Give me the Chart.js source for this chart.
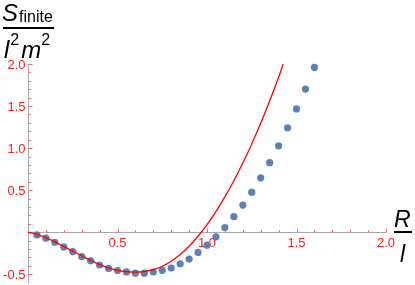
<!DOCTYPE html>
<html>
<head>
<meta charset="utf-8">
<script src="https://cdn.jsdelivr.net/npm/chart.js@4"></script>
<style>
  html, body { margin: 0; padding: 0; background: #fff; }
  .chart { position: relative; width: 415px; height: 285px; }
</style>
</head>
<body>
<div class="chart"><canvas id="chart"></canvas></div>
<script>
// blue points (numerical result)
const dotX = [0.05, 0.10, 0.15, 0.20, 0.25, 0.30, 0.35, 0.40, 0.45, 0.50, 0.55, 0.60, 0.65, 0.70, 0.75, 0.80,
  0.85, 0.90, 0.95, 1.00, 1.05, 1.10, 1.15, 1.20, 1.25, 1.30, 1.35, 1.40, 1.45, 1.50, 1.55, 1.60]
const dotY = [-0.032, -0.071, -0.12, -0.175, -0.23, -0.29, -0.34, -0.39, -0.43, -0.455, -0.472, -0.487, -0.487, -0.473, -0.453, -0.426,
  -0.375, -0.319, -0.24, -0.154, -0.055, 0.055, 0.185, 0.323, 0.476, 0.647, 0.827, 1.028, 1.241, 1.466, 1.702, 1.959]

// red curve (approximation)
const curveX = [0, 0.05, 0.1, 0.15, 0.2, 0.25, 0.3, 0.35, 0.4, 0.45, 0.5, 0.55, 0.6, 0.65, 0.7, 0.75, 0.8,
  0.85, 0.9, 0.95, 1.0, 1.05, 1.1, 1.15, 1.2, 1.25, 1.3, 1.35, 1.4, 1.425]
const curveY = [0, -0.025, -0.065, -0.115, -0.17, -0.225, -0.28, -0.335, -0.385, -0.425, -0.455, -0.47, -0.475, -0.467, -0.445, -0.405, -0.345,
  -0.265, -0.166, -0.048, 0.09, 0.246, 0.42, 0.612, 0.822, 1.05, 1.296, 1.56, 1.842, 2.0]

const xTicks = [0.5, 1.0, 1.5, 2.0]
const xTickLabels = ['0.5', '1.0', '1.5', '2.0']
const yTicks = [-0.5, 0.5, 1.0, 1.5, 2.0]
const yTickLabels = ['-0.5', '0.5', '1.0', '1.5', '2.0']

const FONT = '"Liberation Sans", Arial, sans-serif'
const TICK_RED = '#ff1a1a'

function drawRuns(ctx, x, y, runs) {
  runs.forEach(function (r) {
    ctx.font = r.font
    ctx.fillText(r.t, x, y + (r.dy || 0))
    x += ctx.measureText(r.t).width + (r.gap || 0)
  })
}

// axes through the origin, Mathematica style
const originAxes = {
  id: 'originAxes',
  beforeDatasetsDraw(chart) {
    const ctx = chart.ctx
    const x = chart.scales.x
    const y = chart.scales.y
    const x0 = Math.round(x.getPixelForValue(0)) + 0.5
    const y0 = Math.round(y.getPixelForValue(0)) + 0.5
    ctx.save()
    ctx.lineWidth = 1
    ctx.strokeStyle = '#a8a8a8'
    ctx.beginPath()
    ctx.moveTo(x0, y0)
    ctx.lineTo(x.getPixelForValue(2.0), y0)
    ctx.moveTo(x0, y.getPixelForValue(2.0))
    ctx.lineTo(x0, chart.chartArea.bottom + 2)
    ctx.stroke()

    ctx.strokeStyle = 'rgba(215, 110, 110, 0.9)'
    ctx.beginPath()
    for (let i = 1; i <= 20; i++) {
      const px = Math.round(x.getPixelForValue(i / 10)) + 0.5
      const len = i % 5 === 0 ? 4 : 2.5
      ctx.moveTo(px, y0)
      ctx.lineTo(px, y0 - len)
    }
    for (let i = -5; i <= 20; i++) {
      if (i === 0) continue
      const py = Math.round(y.getPixelForValue(i / 10)) + 0.5
      const len = i % 5 === 0 ? 4 : 2.5
      ctx.moveTo(x0, py)
      ctx.lineTo(x0 + len, py)
    }
    ctx.stroke()

    ctx.fillStyle = TICK_RED
    ctx.font = '13px ' + FONT
    ctx.textAlign = 'center'
    ctx.textBaseline = 'alphabetic'
    xTicks.forEach(function (v, i) {
      ctx.fillText(xTickLabels[i], x.getPixelForValue(v), y0 + 14)
    })
    ctx.textAlign = 'right'
    yTicks.forEach(function (v, i) {
      ctx.fillText(yTickLabels[i], x0 - 3, y.getPixelForValue(v) + 5)
    })
    ctx.restore()
  },
  afterDraw(chart) {
    const ctx = chart.ctx
    ctx.save()
    ctx.fillStyle = '#000'
    ctx.textAlign = 'left'
    ctx.textBaseline = 'alphabetic'
    // y axis label: S_finite / (l^2 m^2)
    drawRuns(ctx, 2, 21, [
      { t: 'S', font: 'italic 24px ' + FONT, gap: 1 },
      { t: 'finite', font: '16px ' + FONT, dy: 1 }
    ])
    ctx.fillRect(3, 27, 51, 2)
    drawRuns(ctx, 4, 58, [
      { t: 'l', font: 'italic 24px ' + FONT, gap: 1 },
      { t: '2', font: '16px ' + FONT, dy: -13, gap: 2 },
      { t: 'm', font: 'italic 24px ' + FONT },
      { t: '2', font: '16px ' + FONT, dy: -13 }
    ])
    // x axis label: R / l
    drawRuns(ctx, 394, 227, [{ t: 'R', font: 'italic 23px ' + FONT }])
    ctx.fillRect(394, 231, 18, 2)
    drawRuns(ctx, 400, 262, [{ t: 'l', font: 'italic 23px ' + FONT }])
    ctx.restore()
  }
}

new Chart(document.getElementById('chart'), {
  type: 'scatter',
  data: {
    datasets: [
      {
        type: 'line',
        data: curveX.map((v, i) => ({ x: v, y: curveY[i] })),
        borderColor: '#ff0000',
        borderWidth: 1.3,
        pointRadius: 0,
        cubicInterpolationMode: 'monotone',
        fill: false,
      },
      {
        data: dotX.map((v, i) => ({ x: v, y: dotY[i] })),
        backgroundColor: '#5e81b5',
        borderWidth: 0,
        pointRadius: 3.6,
        clip: false,
      },
    ],
  },
  options: {
    responsive: true,
    maintainAspectRatio: false,
    animation: false,
    layout: { padding: { left: 28, right: 29, top: 64, bottom: 3 } },
    scales: {
      x: { type: 'linear', min: 0, max: 2.0, display: false },
      y: { type: 'linear', min: -0.58, max: 2.0, display: false },
    },
    plugins: {
      legend: { display: false },
      tooltip: { enabled: false },
    },
  },
  plugins: [originAxes],
})
</script>
</body>
</html>
